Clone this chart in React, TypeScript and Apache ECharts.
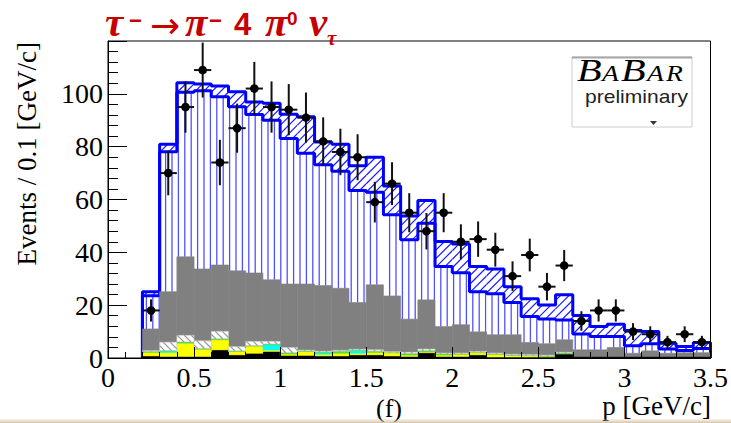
import React, { useEffect, useRef } from "react";
import * as echarts from "echarts";

const BIN_W = 0.1;
const binStarts = [0.2, 0.3, 0.4, 0.5, 0.6, 0.7, 0.8, 0.9, 1.0, 1.1, 1.2, 1.3, 1.4, 1.5, 1.6, 1.7, 1.8, 1.9, 2.0, 2.1, 2.2, 2.3, 2.4, 2.5, 2.6, 2.7, 2.8, 2.9, 3.0, 3.1, 3.2, 3.3, 3.4];
// upper edge of the hatched band (total MC, upper variation)
const mcUpper = [25.1, 80.9, 104.2, 103.7, 103.0, 100.8, 96.9, 96.4, 92.3, 91.3, 81.8, 80.9, 72.8, 76.0, 65.1, 53.8, 59.6, 44.1, 43.2, 34.6, 33.7, 27.0, 22.4, 20.1, 23.9, 16.1, 11.9, 12.8, 10.4, 10.0, 5.6, 4.4, 5.9];
// total MC (top of the vertically hatched signal)
const mcTotal = [23.6, 78.1, 100.6, 101.2, 98.9, 95.1, 92.2, 90.0, 83.1, 77.5, 73.2, 70.7, 63.4, 62.7, 54.2, 44.8, 51.0, 34.6, 32.3, 25.1, 24.3, 21.0, 15.7, 14.8, 14.4, 9.1, 8.1, 8.1, 4.6, 5.4, 3.4, 2.8, 3.6];
// top of the grey tau background
const bkgTop = [11.0, 25.1, 38.3, 33.7, 35.2, 33.0, 32.2, 29.6, 28.0, 28.0, 27.4, 26.4, 21.0, 27.7, 23.5, 14.7, 22.0, 11.9, 12.6, 9.9, 8.8, 8.8, 5.9, 5.4, 6.9, 3.1, 3.1, 4.0, 1.8, 2.7, 1.8, 2.0, 2.0];
// small non-tau backgrounds (stacked from the bottom)
const blackBkg = [0.8, 0.6, 0.6, 0.6, 3.1, 1.2, 1.8, 2.5, 1.0, 1.0, 0.8, 0.8, 1.2, 1.2, 0.8, 0.6, 2.0, 0.6, 0.6, 1.2, 0.3, 0.3, 0.3, 0.3, 1.5, 0.3, 0.3, 0.3, 0.3, 0.3, 0.3, 0.3, 0.3];
const yellowBkg = [1.3, 1.5, 5.0, 2.7, 3.8, 1.3, 2.7, 0.5, 0.5, 1.5, 0.6, 1.0, 0.6, 0.9, 1.1, 0.5, 0.3, 0.5, 0.8, 0.8, 1.1, 0.6, 0.5, 0.3, 0, 0, 0, 0, 0, 0, 0, 0, 0];
const cyanBkg = [0, 0.5, 0, 0, 0, 0, 0, 2.0, 0, 0, 0.6, 0, 1.0, 0, 0, 0, 0, 0, 0, 0, 0, 0, 0, 0, 0, 0, 0, 0, 0, 0, 0, 0, 0];
const greenBkg = [0.4, 0.2, 0.5, 0.3, 0.4, 0.2, 0.2, 0.3, 0.5, 0.2, 0.3, 0.8, 0.2, 0.5, 0.2, 0.6, 0.5, 0.5, 0.2, 0.2, 0.2, 0.2, 0.2, 0.2, 0.4, 0, 0, 0, 0, 0, 0, 0, 0];
const hatchBkg = [0.3, 3.2, 2.5, 2.9, 2.8, 1.6, 1.6, 1.0, 2.0, 0.3, 0.3, 0.3, 0.3, 0.5, 0.3, 0.5, 0.6, 0.3, 0.3, 0.3, 0.3, 0.3, 0.3, 0.3, 0.3, 0, 0, 0, 0, 0, 0, 0, 0];
// data
const dataX = [0.25, 0.35, 0.45, 0.55, 0.65, 0.75, 0.85, 0.95, 1.05, 1.15, 1.25, 1.35, 1.45, 1.55, 1.65, 1.75, 1.85, 1.95, 2.05, 2.15, 2.25, 2.35, 2.45, 2.55, 2.65, 2.75, 2.85, 2.95, 3.05, 3.15, 3.25, 3.35, 3.45];
const dataY = [18, 70, 95, 109, 74, 87, 102, 95, 94, 91, 82, 78, 76, 59, 66, 55, 48, 55, 44, 45, 41, 31, 39, 27, 35, 14, 18, 18, 10, 9, 6, 9, 6];
const dataErr = [4.2, 8.4, 9.7, 10.4, 8.6, 9.3, 10.1, 9.7, 9.7, 9.5, 9.1, 8.8, 8.7, 7.7, 8.1, 7.4, 6.9, 7.4, 6.6, 6.7, 6.4, 5.6, 6.2, 5.2, 5.9, 3.7, 4.2, 4.2, 3.2, 3.0, 2.4, 3.0, 2.4];

const VSP = 6.4;
const DSP = 8.5;

function vertHatch(xa: number, xb: number, ya: number, yb: number, ox: number, color: string, w: number) {
  const out: any[] = [];
  const k = Math.ceil((xa - ox) / VSP + 1e-6);
  for (let X = ox + k * VSP; X < xb - 0.3; X += VSP) {
    out.push({ type: "line", shape: { x1: X, y1: ya, x2: X, y2: yb }, style: { stroke: color, lineWidth: w } });
  }
  return out;
}

function diagHatch(xa: number, xb: number, ya: number, yb: number, ox: number, color: string, w: number, sp: number, down: boolean) {
  const out: any[] = [];
  if (!down) {
    const cmin = xa + ya, cmax = xb + yb;
    for (let c = ox + Math.ceil((cmin - ox) / sp) * sp; c <= cmax; c += sp) {
      const xs = Math.max(xa, c - yb), xe = Math.min(xb, c - ya);
      if (xe - xs > 0.4) out.push({ type: "line", shape: { x1: xs, y1: c - xs, x2: xe, y2: c - xe }, style: { stroke: color, lineWidth: w } });
    }
  } else {
    const cmin = xa - yb, cmax = xb - ya;
    for (let c = ox + Math.ceil((cmin - ox) / sp) * sp; c <= cmax; c += sp) {
      const xs = Math.max(xa, c + ya), xe = Math.min(xb, c + yb);
      if (xe - xs > 0.4) out.push({ type: "line", shape: { x1: xs, y1: xs - c, x2: xe, y2: xe - c }, style: { stroke: color, lineWidth: w } });
    }
  }
  return out;
}

function layerRender(fill: string, stroke: string | null, hatch: string | null, hatchColor = "#000", hatchW = 1) {
  return (params: any, api: any) => {
    const x0 = api.value(0), lo = api.value(1), hi = api.value(2);
    if (!(hi > lo)) return { type: "group", children: [] };
    const a = api.coord([x0, hi]);
    const b = api.coord([x0 + BIN_W, lo]);
    const xa = a[0], ya = a[1], xb = b[0], yb = b[1];
    const ox = api.coord([0, 0])[0];
    const children: any[] = [
      { type: "rect", shape: { x: xa, y: ya, width: xb - xa, height: yb - ya }, style: { fill, stroke: stroke || "none", lineWidth: stroke ? 0.6 : 0 } },
    ];
    if (hatch === "vert") children.push(...vertHatch(xa, xb, ya, yb, ox, hatchColor, hatchW));
    if (hatch === "diag") children.push(...diagHatch(xa, xb, ya, yb, ox, hatchColor, hatchW, DSP, false));
    if (hatch === "diagDown") children.push(...diagHatch(xa, xb, ya, yb, ox, hatchColor, hatchW, 7, true));
    return { type: "group", children };
  };
}

function buildOption() {
  const cum = binStarts.map(() => 0);
  const stack = (vals: number[]) =>
    binStarts.map((x, i) => {
      const lo = cum[i];
      cum[i] += vals[i];
      return [x, lo, cum[i]];
    });
  const blackData = stack(blackBkg);
  const yellowData = stack(yellowBkg);
  const cyanData = stack(cyanBkg);
  const greenData = stack(greenBkg);
  const hatchData = stack(hatchBkg);
  const greyData = binStarts.map((x, i) => [x, cum[i], bkgTop[i]]);
  const signalData = binStarts.map((x, i) => [x, bkgTop[i], mcTotal[i]]);
  const bandData = binStarts.map((x, i) => [x, mcTotal[i], mcUpper[i]]);
  const last = binStarts.length - 1;
  const outline = (vals: number[]) => {
    const pts: number[][] = [[binStarts[0], 0]];
    binStarts.forEach((x, i) => pts.push([x, vals[i]]));
    pts.push([binStarts[last] + BIN_W, vals[last]]);
    pts.push([binStarts[last] + BIN_W, 0]);
    return pts;
  };
  const points = dataX.map((x, i) => [x, dataY[i], dataErr[i]]);

  const custom = (name: string, data: number[][], z: number, render: any) => ({
    type: "custom",
    name,
    z,
    silent: true,
    renderItem: render,
    encode: { x: 0, y: [1, 2] },
    data,
  });

  const red = "#c80000";
  const greek = "bold italic 41px 'Liberation Serif'";
  const txt = (text: string, x: number, y: number, font: string, fill: string, align = "left", va = "middle", extra: any = {}) => ({
    type: "text",
    x,
    y,
    z: 100,
    silent: true,
    ...extra,
    style: { text, font, fill, textAlign: align, textVerticalAlign: va, align, verticalAlign: va },
  });

  return {
    animation: false,
    backgroundColor: "#ffffff",
    grid: { left: 108, right: 19, top: 41, bottom: 65, show: true, borderColor: "#000", borderWidth: 1, backgroundColor: "transparent", z: 20 },
    xAxis: {
      type: "value",
      min: 0,
      max: 3.5,
      interval: 0.5,
      z: 20,
      axisLine: { show: true, lineStyle: { color: "#000", width: 1 } },
      axisTick: { show: true, inside: true, length: 11, lineStyle: { color: "#000", width: 1 } },
      minorTick: { show: true, splitNumber: 5, length: 6, lineStyle: { color: "#000", width: 1 } },
      splitLine: { show: false },
      axisLabel: { color: "#000", fontFamily: "Liberation Serif", fontSize: 28, margin: 5, showMaxLabel: true, showMinLabel: true },
    },
    yAxis: {
      type: "value",
      min: 0,
      max: 120,
      interval: 20,
      z: 20,
      axisLine: { show: true, lineStyle: { color: "#000", width: 1 } },
      axisTick: { show: true, inside: true, length: 19, lineStyle: { color: "#000", width: 1 } },
      minorTick: { show: true, splitNumber: 5, length: 10, lineStyle: { color: "#000", width: 1 } },
      splitLine: { show: false },
      axisLabel: { color: "#000", fontFamily: "Liberation Serif", fontSize: 28, margin: 5, showMaxLabel: false },
    },
    series: [
      custom("band", bandData, 3, layerRender("#ffffff", null, "diag", "#1a1aff", 1.2)),
      custom("signal", signalData, 4, layerRender("#ffffff", null, "vert", "#5050ff", 1.3)),
      {
        type: "line", name: "upper", z: 5, step: "end", symbol: "none", silent: true,
        lineStyle: { color: "#0000ff", width: 3 }, data: outline(mcUpper),
      },
      {
        type: "line", name: "total", z: 6, step: "end", symbol: "none", silent: true,
        lineStyle: { color: "#0000ff", width: 3 }, data: outline(mcTotal),
      },
      custom("tauBkg", greyData, 7, layerRender("#808080", "#808080", null)),
      custom("black", blackData, 8, layerRender("#000000", "#000000", null)),
      custom("yellow", yellowData, 8, layerRender("#ffff00", "#ffff00", null)),
      custom("cyan", cyanData, 8, layerRender("#00ffff", "#00ffff", null)),
      custom("green", greenData, 8, layerRender("#55dd33", "#55dd33", null)),
      custom("hatched", hatchData, 8, layerRender("#ffffff", "#bbbbbb", "diagDown", "#999999", 1.2)),
      {
        type: "custom",
        name: "data",
        z: 12,
        silent: true,
        encode: { x: 0, y: 1 },
        data: points,
        renderItem: (params: any, api: any) => {
          const x = api.value(0), y = api.value(1), e = api.value(2);
          const c = api.coord([x, y]);
          const t = api.coord([x, y + e]);
          const b = api.coord([x, y - e]);
          const l = api.coord([x - BIN_W / 2, y]);
          const r = api.coord([x + BIN_W / 2, y]);
          const s = { stroke: "#111", lineWidth: 2 };
          return {
            type: "group",
            children: [
              { type: "line", shape: { x1: t[0], y1: t[1], x2: b[0], y2: b[1] }, style: s },
              { type: "line", shape: { x1: l[0], y1: l[1], x2: r[0], y2: r[1] }, style: s },
              { type: "circle", shape: { cx: c[0], cy: c[1], r: 4.3 }, style: { fill: "#000" } },
            ],
          };
        },
      },
    ],
    graphic: [
      // title
      txt("τ", 105, 22, greek, red),
      txt("−", 129, 20.5, "bold 22px 'Liberation Sans'", red),
      txt("→", 150, 25, "36px 'DejaVu Sans'", red),
      txt("π", 185, 22, greek, red),
      txt("−", 209, 20.5, "bold 22px 'Liberation Sans'", red),
      txt("4", 234, 24, "bold 31px 'Liberation Sans'", red),
      txt("π", 265, 22, greek, red),
      txt("0", 287, 18, "bold 19px 'Liberation Sans'", red),
      txt("ν", 309, 22, greek, red),
      txt("τ", 327, 38, "bold italic 21px 'Liberation Serif'", red),
      // axis titles
      txt("Events / 0.1 [GeV/c]", 26.5, 42, "27px 'Liberation Serif'", "#000", "right", "middle", { rotation: Math.PI / 2 }),
      txt("p [GeV/c]", 711, 406, "27px 'Liberation Serif'", "#000", "right", "middle"),
      txt("(f)", 389, 408, "26px 'Liberation Serif'", "#000", "center", "middle"),
      // BaBar logo
      { type: "rect", z: 99, silent: true, shape: { x: 572, y: 57, width: 120, height: 70 }, style: { fill: "#ffffff", stroke: "#cccccc", lineWidth: 1 } },
      { type: "line", z: 99, silent: true, shape: { x1: 572, y1: 57.5, x2: 692, y2: 57.5 }, style: { stroke: "#a8a8a8", lineWidth: 2 } },
      txt("B", 577, 86, "italic 31px 'Liberation Serif'", "#000", "left", "bottom", { scaleX: 1.3 }),
      txt("A", 602, 84.5, "italic 23px 'Liberation Serif'", "#000", "left", "bottom", { scaleX: 1.2 }),
      txt("B", 621, 86, "italic 31px 'Liberation Serif'", "#000", "left", "bottom", { scaleX: 1.3 }),
      txt("A", 647, 84.5, "italic 23px 'Liberation Serif'", "#000", "left", "bottom", { scaleX: 1.2 }),
      txt("R", 666, 84.5, "italic 23px 'Liberation Serif'", "#000", "left", "bottom", { scaleX: 1.2 }),
      txt("preliminary", 585, 97, "18px 'Liberation Sans'", "#222", "left", "middle", { scaleX: 1.17 }),
      { type: "polygon", z: 100, silent: true, shape: { points: [[650, 121], [657, 121], [653.5, 125]] }, style: { fill: "#333" } },
      // faint bottom shadow line
      {
        type: "rect", z: 100, silent: true, shape: { x: 0, y: 419, width: 731, height: 4 },
        style: { fill: new echarts.graphic.LinearGradient(0, 0, 0, 1, [{ offset: 0, color: "rgba(220,195,160,0.2)" }, { offset: 1, color: "rgba(200,170,130,0.7)" }]) },
      },
    ],
  };
}

export default function App() {
  const ref = useRef<HTMLDivElement>(null);
  useEffect(() => {
    const chart = echarts.init(ref.current!, null, { renderer: "svg" });
    chart.setOption(buildOption() as any);
    return () => chart.dispose();
  }, []);
  return <div ref={ref} style={{ position: "fixed", left: 0, top: 0, width: 731, height: 423 }} />;
}
